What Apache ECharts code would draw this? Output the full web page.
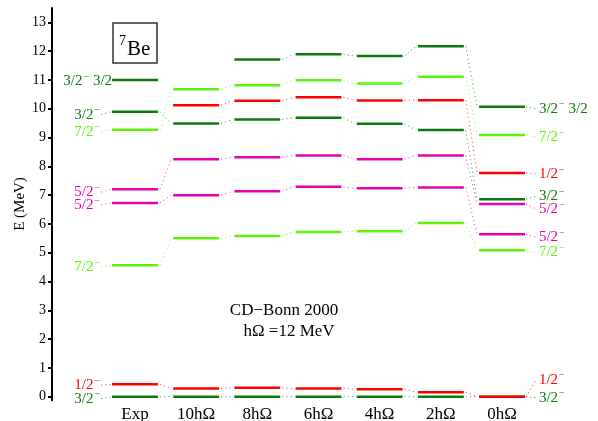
<!DOCTYPE html>
<html><head><meta charset="utf-8">
<script src="https://cdn.jsdelivr.net/npm/echarts@6/dist/echarts.min.js"></script>
<style>html,body{margin:0;padding:0;background:#fff}#c{width:598px;height:421px}</style>
</head><body><div id="c"></div>
<script>
// ---- data ----
const categories = ['Exp', '10hΩ', '8hΩ', '6hΩ', '4hΩ', '2hΩ', '0hΩ'];
const tickValues = [0,1,2,3,4,5,6,7,8,9,10,11,12,13];
// levels per state, one value per column (null = absent)
const g32  = [0, 0, 0, 0, 0, 0, 0];
const a12  = [0.43, 0.29, 0.31, 0.29, 0.26, 0.16, 0.0];
const a72  = [4.57, 5.50, 5.58, 5.72, 5.75, 6.03, 5.09];
const a52  = [6.73, 7.00, 7.14, 7.29, 7.24, 7.27, 5.64];
const b52  = [7.21, 8.25, 8.32, 8.38, 8.25, 8.38, 6.69];
const b72  = [9.27, 10.68, 10.82, 10.99, 10.88, 11.11, 9.09];
const b32  = [9.90, 9.49, 9.63, 9.69, 9.48, 9.26, 6.86];
const b12  = [null, 10.12, 10.28, 10.40, 10.29, 10.30, 7.77];
const t32  = [11.0, null, 11.71, 11.89, 11.83, 12.17, 10.07];
const stateNames = ['3/2⁻', '1/2⁻', '7/2⁻', '5/2⁻', '5/2⁻', '7/2⁻', '3/2⁻', '1/2⁻', '3/2⁻ 3/2'];
const titleLines = ['CD−Bonn 2000', 'hΩ =12 MeV'];
const nucleusMass = '7';
const nucleusName = 'Be';
const yName = 'E (MeV)';

// ---- styling ----
const states = [g32, a12, a72, a52, b52, b72, b32, b12, t32];
const palette = {dg: '#0b7a0b', lg: '#5cf20c', rd: '#ff0000', mg: '#e600b0'};
const stateColor = ['dg', 'rd', 'lg', 'mg', 'mg', 'lg', 'dg', 'rd', 'dg'];
const leftNudge  = [2, 1, 2, 2, 3, 2, 3, 0, 1];
const rightNudge = [1, -17, 2, 3, 5, 2, -3, 1, 2];
const FONT = '"Liberation Serif","DejaVu Serif",serif';

const levelData = [], linkData = [], labelData = [];
states.forEach((arr, s) => {
  arr.forEach((v, i) => {
    if (v != null) levelData.push([i, v, s]);
    if (i < arr.length - 1 && v != null && arr[i + 1] != null) linkData.push([i, v, arr[i + 1], s]);
  });
  if (arr[0] != null) labelData.push([0, arr[0], s, 0]);
  const last = arr.length - 1;
  if (arr[last] != null) labelData.push([last, arr[last], s, 1]);
});

function richText(name) {
  return name.split(' ').map(p => p.endsWith('⁻') ? '{n|' + p.slice(0, -1) + '}{s|−}' : '{n|' + p + '}').join('{n| }');
}
const rich = {
  n: {fontFamily: FONT, fontSize: 15, lineHeight: 18},
  s: {fontFamily: FONT, fontSize: 10, verticalAlign: 'top', lineHeight: 18, padding: [0, 0, 0, 1]}
};

const chart = echarts.init(document.getElementById('c'), null, {renderer: 'canvas'});
chart.setOption({
  animation: false,
  backgroundColor: '#fff',
  grid: {left: 104.4, right: 65.4, top: 8, bottom: 20.8, containLabel: false, outerBoundsMode: 'none'},
  xAxis: {
    type: 'category', data: categories, boundaryGap: true,
    axisLine: {show: false}, axisTick: {show: false}, splitLine: {show: false},
    axisLabel: {interval: 0, fontFamily: FONT, fontSize: 17, color: '#000', margin: 6}
  },
  yAxis: {
    type: 'value', min: -0.12, max: 13.5, position: 'left', offset: 52.4,
    axisLine: {show: true, lineStyle: {color: '#000', width: 2}},
    axisTick: {show: true, customValues: tickValues, length: 4, lineStyle: {color: '#000', width: 2}},
    axisLabel: {customValues: tickValues, fontFamily: FONT, fontSize: 14, color: '#000', margin: 6},
    splitLine: {show: false}
  },
  graphic: [
    {type: 'rect', shape: {x: 113, y: 23, width: 44, height: 40}, style: {fill: 'none', stroke: '#333', lineWidth: 1.5}, z: 10},
    {type: 'text', x: 119, y: 34, style: {text: nucleusMass, font: '14px ' + FONT, fill: '#000'}, z: 10},
    {type: 'text', x: 127, y: 39, style: {text: nucleusName, font: '21px ' + FONT, fill: '#000'}, z: 10},
    {type: 'text', x: 284, y: 311, style: {text: titleLines[0], font: '17px ' + FONT, fill: '#000', align: 'center', verticalAlign: 'middle'}, z: 10},
    {type: 'text', x: 289, y: 332, style: {text: titleLines[1], font: '17px ' + FONT, fill: '#000', align: 'center', verticalAlign: 'middle'}, z: 10},
    {type: 'text', x: 20, y: 204, rotation: Math.PI / 2, style: {text: yName, font: '15px ' + FONT, fill: '#000', align: 'center', verticalAlign: 'middle'}, z: 10}
  ],
  series: [
    {
      type: 'custom', name: 'links', data: linkData, silent: true, z: 1,
      renderItem(params, api) {
        const i = api.value(0), s = api.value(3);
        const p1 = api.coord([i, api.value(1)]), p2 = api.coord([i + 1, api.value(2)]);
        const hw = api.size([1, 0])[0] * 0.375;
        return {type: 'line', shape: {x1: p1[0] + hw + 2, y1: p1[1], x2: p2[0] - hw - 2, y2: p2[1]},
          style: {stroke: palette[stateColor[s]], lineWidth: 1, lineDash: [1.2, 3], opacity: 0.7}};
      }
    },
    {
      type: 'custom', name: 'levels', data: levelData, silent: true, z: 2,
      renderItem(params, api) {
        const i = api.value(0), s = api.value(2);
        const p = api.coord([i, api.value(1)]);
        const hw = api.size([1, 0])[0] * 0.375;
        return {type: 'line', shape: {x1: p[0] - hw, y1: p[1], x2: p[0] + hw, y2: p[1]},
          style: {stroke: palette[stateColor[s]], lineWidth: 2.5}};
      }
    },
    {
      type: 'custom', name: 'labels', data: labelData, silent: true, z: 3,
      renderItem(params, api) {
        const i = api.value(0), s = api.value(2), side = api.value(3);
        const p = api.coord([i, api.value(1)]);
        const hw = api.size([1, 0])[0] * 0.375;
        const col = palette[stateColor[s]];
        const name = stateNames[s];
        const long = name.indexOf(' ') >= 0;
        const children = [];
        if (side === 0) {
          const ty = p[1] + leftNudge[s];
          const tx = long ? p[0] - hw : p[0] - hw - 12;
          if (!long) children.push({type: 'line', shape: {x1: p[0] - hw - 11, y1: ty, x2: p[0] - hw - 1, y2: p[1]},
            style: {stroke: col, lineWidth: 1, lineDash: [1.2, 3], opacity: 0.7}});
          children.push({type: 'text', style: {x: tx, y: ty, text: richText(name), rich: rich, fill: col, align: 'right', verticalAlign: 'middle'}});
        } else {
          const ty = p[1] + rightNudge[s];
          children.push({type: 'line', shape: {x1: p[0] + hw + 1, y1: p[1], x2: p[0] + hw + 11, y2: ty},
            style: {stroke: col, lineWidth: 1, lineDash: [1.2, 3], opacity: 0.7}});
          children.push({type: 'text', style: {x: p[0] + hw + 14, y: ty, text: richText(name), rich: rich, fill: col, align: 'left', verticalAlign: 'middle'}});
        }
        return {type: 'group', children};
      }
    }
  ]
});
</script></body></html>
